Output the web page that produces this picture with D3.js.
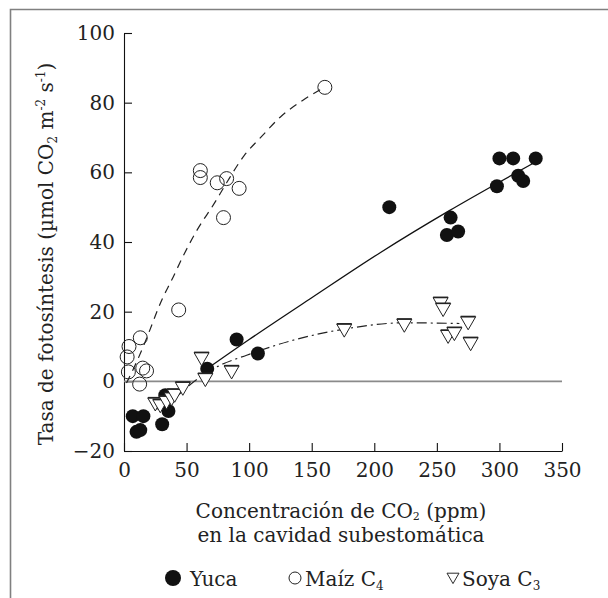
<!DOCTYPE html>
<html>
<head>
<meta charset="utf-8">
<script src="https://cdn.jsdelivr.net/npm/d3@7"></script>
<style>
    body { margin: 0; background: #fff; }
    svg text { font-family: "DejaVu Serif", serif; fill: #222; }
</style>
</head>
<body>
<div id="chart"></div>
<script>
// Data (CO2 in ppm, rate in umol CO2 m-2 s-1)
const yucaCo2 = [7, 15.5, 10, 13, 30.5, 33, 35.5, 66.5, 90, 107, 212, 258, 261, 267, 298, 300, 311, 315, 319, 329];
const yucaRate = [-10, -10, -14.5, -14, -12.3, -4, -8.5, 3.6, 12, 8, 50, 42, 47, 43, 56, 64, 64, 59, 57.5, 64];

const maizCo2 = [2.5, 4, 3.5, 13, 15, 18, 12.5, 43.7, 61, 61, 74.5, 79.5, 82, 92, 160.5];
const maizRate = [7, 10, 2.7, 12.5, 3.8, 3, -0.8, 20.5, 60.5, 58.5, 57, 47, 58.2, 55.4, 84.4];

const soyaCo2 = [25, 29, 34, 38, 40.5, 47, 62, 65, 86, 176, 224, 253, 255, 259, 264, 275, 277];
const soyaRate = [-6.5, -7, -6, -5, -4, -2, 6.5, 0.5, 2.7, 14.7, 16.1, 22.3, 20.6, 12.9, 13.7, 16.8, 10.8];

// fitted curves
const yucaFitCo2 = [64, 100, 150, 205, 260, 298, 327];
const yucaFitRate = [3, 12, 24, 37, 49, 56.8, 62.6];

const maizFitCo2 = [2, 10, 16, 31, 38, 48, 58, 72, 82, 96, 110, 125, 143, 158];
const maizFitRate = [-0.5, 5.5, 10.5, 24, 29, 36.5, 43.2, 51, 57, 64.8, 70.3, 75.9, 80.7, 84];

const soyaFitCo2 = [26, 40, 50, 62, 75, 98, 135, 176, 224, 268];
const soyaFitRate = [-8, -5, -1.8, 1.5, 4.3, 7.5, 11.8, 15, 16.8, 16.6];

const xTicks = [0, 50, 100, 150, 200, 250, 300, 350];
const yTicks = [-20, 0, 20, 40, 60, 80, 100];

const zip = (xs, ys) => xs.map((v, i) => ({ co2: v, rate: ys[i] }));

function drawChart() {
    const width = 608;
    const height = 598;

    const svg = d3.select("#chart")
        .append("svg")
        .attr("width", width)
        .attr("height", height);

    // frame (top and left edges only)
    svg.append("path")
        .attr("d", "M10.5,598V9.5H608")
        .attr("fill", "none")
        .attr("stroke", "#808080")
        .attr("stroke-width", 1.6);

    const x = d3.scaleLinear().domain([0, 350]).range([124, 562]);
    const y = d3.scaleLinear().domain([-20, 100]).range([451, 33]);

    const xAxis = svg.append("g")
        .attr("transform", `translate(0, ${y(-20)})`)
        .call(d3.axisBottom(x).tickValues(xTicks).tickSizeInner(-8).tickSizeOuter(0).tickPadding(12));

    const yAxis = svg.append("g")
        .attr("transform", `translate(${x(0)}, 0)`)
        .call(d3.axisLeft(y).tickValues(yTicks).tickSizeInner(-8).tickSizeOuter(0).tickPadding(9));

    [xAxis, yAxis].forEach(g => {
        g.selectAll("path, line").attr("stroke", "#111").attr("stroke-width", 1.1);
        g.selectAll("text")
            .attr("font-family", "DejaVu Serif")
            .attr("font-size", 20)
            .attr("fill", "#222");
    });

    // zero line
    svg.append("line")
        .attr("x1", x(0)).attr("x2", x(350))
        .attr("y1", y(0)).attr("y2", y(0))
        .attr("stroke", "#8a8a8a")
        .attr("stroke-width", 1.6);

    const line = d3.line()
        .x(d => x(d.co2))
        .y(d => y(d.rate))
        .curve(d3.curveMonotoneX);

    svg.append("path")
        .datum(zip(maizFitCo2, maizFitRate))
        .attr("fill", "none")
        .attr("stroke", "#222")
        .attr("stroke-width", 1.2)
        .attr("stroke-dasharray", "8,6")
        .attr("d", line);

    svg.append("path")
        .datum(zip(soyaFitCo2, soyaFitRate))
        .attr("fill", "none")
        .attr("stroke", "#222")
        .attr("stroke-width", 1.2)
        .attr("stroke-dasharray", "10,4,2,4")
        .attr("d", line);

    svg.append("path")
        .datum(zip(yucaFitCo2, yucaFitRate))
        .attr("fill", "none")
        .attr("stroke", "#111")
        .attr("stroke-width", 1.3)
        .attr("d", line);

    // Yuca: filled circles
    svg.selectAll(".yuca")
        .data(zip(yucaCo2, yucaRate))
        .enter().append("circle")
        .attr("class", "yuca")
        .attr("cx", d => x(d.co2))
        .attr("cy", d => y(d.rate))
        .attr("r", 7)
        .attr("fill", "#111");

    // Soya: open down triangles
    const tri = "M-7.5,-6L7.5,-6L0,7Z";
    const soya = svg.selectAll(".soya")
        .data(zip(soyaCo2, soyaRate))
        .enter().append("g")
        .attr("class", "soya")
        .attr("transform", d => `translate(${x(d.co2)},${y(d.rate)})`);
    soya.append("path")
        .attr("d", tri)
        .attr("fill", "#fff")
        .attr("stroke", "#222")
        .attr("stroke-width", 1);
    soya.append("path")
        .attr("d", "M-7.5,-6.3H7.5")
        .attr("stroke", "#222")
        .attr("stroke-width", 1.6);

    // Maiz: open circles
    svg.selectAll(".maiz")
        .data(zip(maizCo2, maizRate))
        .enter().append("circle")
        .attr("class", "maiz")
        .attr("cx", d => x(d.co2))
        .attr("cy", d => y(d.rate))
        .attr("r", 7)
        .attr("fill", "none")
        .attr("stroke", "#222")
        .attr("stroke-width", 1);

    // y title
    const yTitle = svg.append("text")
        .attr("transform", "translate(53, 254) rotate(-90)")
        .attr("text-anchor", "middle")
        .attr("font-size", 20);
    yTitle.append("tspan").text("Tasa de fotosíntesis (µmol CO");
    yTitle.append("tspan").attr("font-size", 12).attr("dy", 4).text("2");
    yTitle.append("tspan").attr("dy", -4).text(" m");
    yTitle.append("tspan").attr("font-size", 12).attr("dy", -8).text("-2");
    yTitle.append("tspan").attr("dy", 8).text(" s");
    yTitle.append("tspan").attr("font-size", 12).attr("dy", -8).text("-1");
    yTitle.append("tspan").attr("dy", 8).text(")");

    // x title, two lines
    const xTitle = svg.append("text")
        .attr("x", 341).attr("y", 518)
        .attr("text-anchor", "middle")
        .attr("font-size", 20);
    xTitle.append("tspan").text("Concentración de CO");
    xTitle.append("tspan").attr("font-size", 11).attr("dy", 2).text("2");
    xTitle.append("tspan").attr("dy", -2).text(" (ppm)");
    svg.append("text")
        .attr("x", 341).attr("y", 542)
        .attr("text-anchor", "middle")
        .attr("font-size", 20)
        .text("en la cavidad subestomática");

    // legend
    const ly = 578;
    svg.append("circle").attr("cx", 173).attr("cy", ly).attr("r", 8).attr("fill", "#111");
    svg.append("text").attr("x", 190).attr("y", ly + 8).attr("font-size", 20).text("Yuca");

    svg.append("circle").attr("cx", 295).attr("cy", ly).attr("r", 6)
        .attr("fill", "none").attr("stroke", "#222").attr("stroke-width", 1);
    const l2 = svg.append("text").attr("x", 305).attr("y", ly + 8).attr("font-size", 20);
    l2.append("tspan").text("Maíz C");
    l2.append("tspan").attr("font-size", 12).attr("dy", 4).text("4");

    svg.append("path")
        .attr("transform", `translate(453, ${ly}) scale(0.8)`)
        .attr("d", tri)
        .attr("fill", "#fff").attr("stroke", "#222").attr("stroke-width", 1.2);
    const l3 = svg.append("text").attr("x", 462).attr("y", ly + 8).attr("font-size", 20);
    l3.append("tspan").text("Soya C");
    l3.append("tspan").attr("font-size", 12).attr("dy", 4).text("3");
}

drawChart();
</script>
</body>
</html>
